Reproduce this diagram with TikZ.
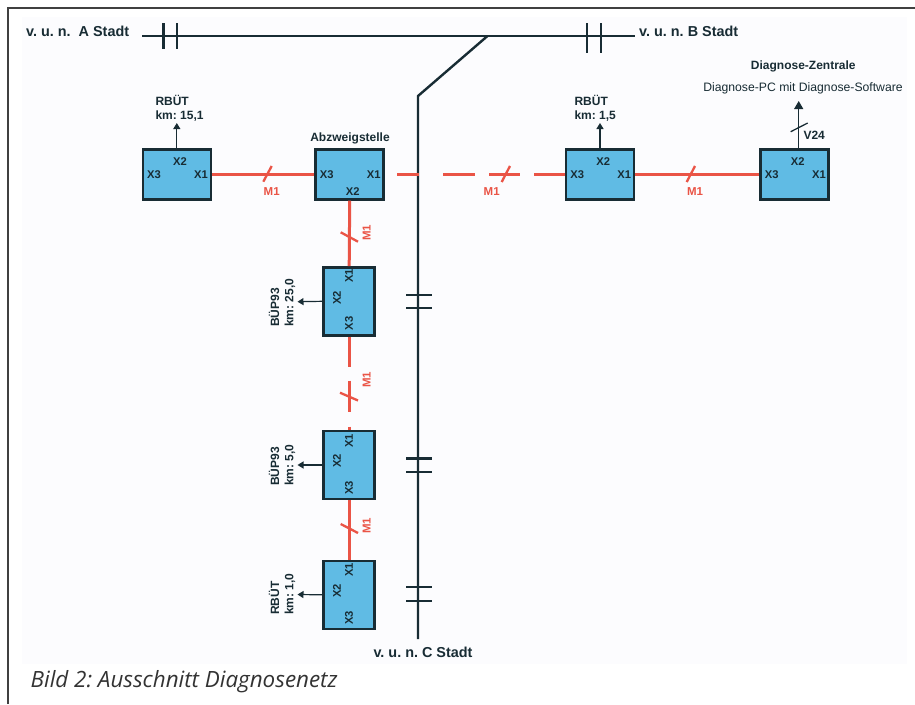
\documentclass[tikz,border=0pt]{standalone}
\usepackage{fontspec}
\setmainfont{Liberation Sans}
\newfontfamily\capfont{Open Sans}
\definecolor{boxblue}{RGB}{96,187,228}
\definecolor{redline}{RGB}{234,84,70}
\definecolor{inkc}{RGB}{24,44,52}
\definecolor{panel}{RGB}{252,252,254}
\usetikzlibrary{arrows.meta}
\tikzset{
  x=1pt,y=-1pt,
  dev/.style={draw=inkc,line width=2.5pt,fill=boxblue,minimum width=68pt,minimum height=50pt,inner sep=0pt},
  vdev/.style={draw=inkc,line width=2.5pt,fill=boxblue,minimum width=51pt,minimum height=68pt,inner sep=0pt},
  port/.style={font=\fontsize{11.2}{13}\selectfont\bfseries,text=inkc,inner sep=0pt},
  vport/.style={port,rotate=90},
  lbl/.style={font=\fontsize{12}{14.3}\selectfont\bfseries,text=inkc,inner sep=0pt,align=left},
  vlbl/.style={lbl,rotate=90,anchor=west},
  city/.style={font=\fontsize{14.4}{16}\selectfont\bfseries,text=inkc,inner sep=0pt},
  redlbl/.style={font=\fontsize{11.5}{13}\selectfont\bfseries,text=redline,inner sep=0pt},
  vredlbl/.style={redlbl,rotate=90},
  track/.style={draw=inkc,line width=2.4pt},
  link/.style={draw=redline,line width=3pt},
  tick/.style={draw=redline,line width=2.3pt},
  blacktick/.style={draw=inkc,line width=1.3pt},
  outarrow/.style={draw=inkc,line width=1.2pt,-{Triangle[length=6pt,width=7pt]}},
}
\begin{document}
\frenchspacing
\begin{tikzpicture}
\useasboundingbox (0,0) rectangle (915,704);
\fill[white] (0,0) rectangle (915,704);
\fill[panel] (21.5,16.7) rectangle (906.5,664);
\draw[draw=black!75,line width=1.3pt] (8,704) -- (8,8) -- (915,8);
% device boxes
\node[dev] (a) at (176.8,174.3) {};
\node[dev] (b) at (349.7,174.3) {};
\node[dev] (c) at (600,174.3) {};
\node[dev] (d) at (794.5,174.3) {};
\node[vdev] (e) at (349.2,301.3) {};
\node[vdev] (f) at (349.2,465) {};
\node[vdev] (g) at (349.2,594.8) {};
% track
\coordinate (ws) at (142,36);
\coordinate (es) at (635,36);
\coordinate (j) at (487.5,36);
\coordinate (k) at (418,96);
\coordinate (cs) at (418,639);
\draw[track] (ws) -- (es);
\draw[track,line join=miter] (j) -- (k) -- (cs);
% insulating joints
\foreach \n/\x/\ya/\yb in {i1/163.5/23/49,i2/176.7/23/49,i3/586.7/23/53,i4/600.7/23/53}{
  \coordinate (\n a) at (\x,\ya);\coordinate (\n b) at (\x,\yb);\draw[track] (\n a) -- (\n b);}
\foreach \n/\y in {i5/295,i6/308,i7/458.5,i8/471.7,i9/587,i10/600.7}{
  \coordinate (\n a) at (406,\y);\coordinate (\n b) at (431.5,\y);\draw[track] (\n a) -- (\n b);}
% red links
\coordinate (rs) at (397,174.3);
\draw[link] (a.east) -- (b.west);
\draw[link,dash pattern=on 22pt off 24pt on 32pt off 14pt on 31pt off 14pt on 40pt] (rs) -- (c.west);
\draw[link] (c.east) -- (d.west);
\draw[link] (b.south) -- (e.north);
\draw[link,dash pattern=on 30pt off 14pt on 31pt off 15pt on 6pt] (e.south) -- (f.north);
\draw[link] (f.south) -- (g.north);
% ticks on links
\foreach \n/\xa/\ya/\xb/\yb in {t1/263.3/181.7/271.7/166,t2/501.7/182/510/166,t3/686.7/182/695/166,
  t4/340.7/232.3/358/241.7,t5/340/392.7/358/400.5,t6/340.7/524/358/533}{
  \coordinate (\n a) at (\xa,\ya);\coordinate (\n b) at (\xb,\yb);\draw[tick] (\n a) -- (\n b);}
\coordinate (t7a) at (790.7,131.7);\coordinate (t7b) at (807.7,123);
% M1 labels
\node[redlbl] (m1) at (271.7,191.7) {M1};
\node[redlbl] (m2) at (491.7,191.7) {M1};
\node[redlbl] (m3) at (695,191.7) {M1};
\node[vredlbl] (m4) at (366.7,233) {M1};
\node[vredlbl] (m5) at (366.7,380) {M1};
\node[vredlbl] (m6) at (366.7,526) {M1};
% outputs
\coordinate (oa) at (176.8,123);
\coordinate (oc) at (600,123);
\coordinate (dn) at (798.7,148);
\coordinate (od) at (798.7,101);
\coordinate (oe) at (297.5,301.7);
\coordinate (of) at (297.5,465);
\coordinate (og) at (297.5,594.5);
\draw[outarrow] (a.north) -- (oa);
\draw[outarrow] (c.north) -- (oc);
\draw[outarrow,-{Triangle[length=8pt,width=9pt]}] (dn) -- (od);
\draw[blacktick] (t7a) -- (t7b);
\draw[outarrow] (e.west) -- (oe);
\draw[outarrow] (f.west) -- (of);
\draw[outarrow] (g.west) -- (og);
% port labels
\foreach \m/\xc/\xd/\xb/\yb in {a/154/201/180/161.7,b/326.7/373.7/352.7/191.7,c/577.3/624.3/603.3/161.7,d/771.7/819/797.7/161.7}{
  \node[port] (\m3) at (\xc,174.3) {X3};
  \node[port] (\m1) at (\xd,174.3) {X1};
  \node[port] (\m2) at (\xb,\yb) {X2};}
\foreach \m/\ya/\yb/\yc in {e/276/297.7/323.3,f/440.7/461/487.7,g/570/591/617.7}{
  \node[vport] (\m1) at (349,\ya) {X1};
  \node[vport] (\m2) at (337,\yb) {X2};
  \node[vport] (\m3) at (349,\yc) {X3};}
% text labels
\node[lbl,anchor=west] (la) at (155.3,108) {RBÜT\\km: 15,1};
\node[lbl,anchor=west] (lc) at (574.3,108) {RBÜT\\km: 1,5};
\node[lbl] (lb) at (350,138) {Abzweigstelle};
\node[lbl] (ld) at (803.3,66.3) {Diagnose-Zentrale};
\node[lbl,font=\fontsize{12.2}{14}\selectfont] (ld2) at (803,88.3) {Diagnose-PC mit Diagnose-Software};
\node[lbl,anchor=west] (lv) at (803.3,135) {V24};
\node[vlbl] (le) at (282,327) {BÜP93\\km: 25,0};
\node[vlbl] (lf) at (282,486) {BÜP93\\km: 5,0};
\node[vlbl] (lg) at (282,615) {RBÜT\\km: 1,0};
\node[city,anchor=west] (ca) at (26,31) {v. u. n.\ \ A Stadt};
\node[city,anchor=west] (cb) at (639,31) {v. u. n. B Stadt};
\node[city] (cc) at (423,652) {v. u. n. C Stadt};
\node[anchor=west,inner sep=0pt,text=black!80,font=\capfont\itshape\fontsize{22.4}{26}\selectfont] (cap) at (30.5,681.5) {Bild 2: Ausschnitt Diagnosenetz};
\end{tikzpicture}
\end{document}
